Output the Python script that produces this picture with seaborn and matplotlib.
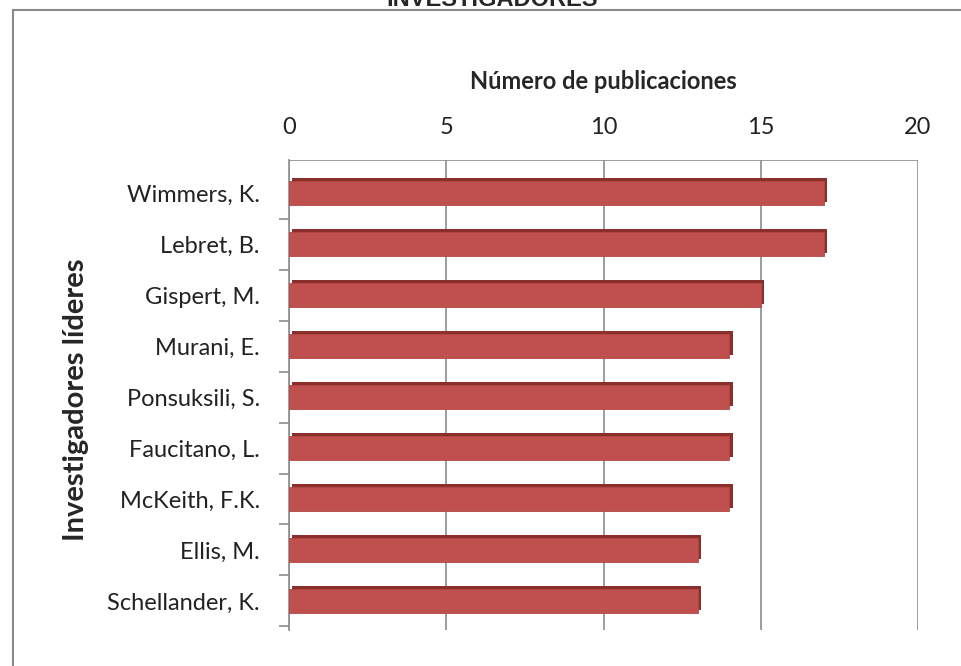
import matplotlib
matplotlib.use("Agg")
import matplotlib.pyplot as plt
import matplotlib.patheffects as pe
from matplotlib.patches import Rectangle
import numpy as np
import pandas as pd
import seaborn as sns

investigadores = ["Wimmers, K.", "Lebret, B.", "Gispert, M.", "Murani, E.",
                  "Ponsuksili, S.", "Faucitano, L.", "McKeith, F.K.",
                  "Ellis, M.", "Schellander, K."]
publicaciones = [17, 17, 15, 14, 14, 14, 14, 13, 13]
xticks = [0, 5, 10, 15, 20]

df = pd.DataFrame({"investigador": investigadores, "n": publicaciones})

sns.set_style("white")
plt.rcParams["font.family"] = ["Lato", "DejaVu Sans"]

W, H = 961, 666
fig = plt.figure(figsize=(W / 100, H / 100), dpi=100)

# chart frame (cut at right/bottom like the screenshot)
fig.patches.append(Rectangle((13 / W, -0.1), 1.2, 1 - 10 / H + 0.1, transform=fig.transFigure,
                             fill=False, edgecolor="#8a8a8a", lw=1.5))

# chart title, cropped at the top edge as in the screenshot
fig.text(492 / W, 1 + 1 / H, "INVESTIGADORES", ha="center", va="center",
         fontsize=17, fontweight="bold", family=["Liberation Sans", "DejaVu Sans"])

ax = fig.add_axes([289 / W, 36 / H, (918 - 289) / W, (630 - 160) / H])

# back-wall gridlines
for t in xticks:
    ax.axvline(t, color="#8c8c8c", lw=1.2, zorder=0)
ax.axhline(-0.65, color="#8c8c8c", lw=1.2, zorder=0)

sns.barplot(data=df, x="n", y="investigador", orient="h", color="#C0504D",
            saturation=1, width=0.47, ax=ax, zorder=3)
for bar in ax.patches:
    bar.set_path_effects([pe.SimplePatchShadow(offset=(2.4, 2.4), shadow_rgbFace="#8B2F2D", alpha=1),
                          pe.Normal()])
    bar.set_edgecolor("#B34845")
    bar.set_linewidth(0.6)

ax.set_xlim(0, 20)
ax.set_ylim(8.57, -0.65)
ax.set_xticks(xticks)
ax.xaxis.tick_top()
ax.xaxis.set_label_position("top")
ax.tick_params(axis="x", length=0, pad=16, labelsize=17, colors="#222222")
ax.set_yticks(np.arange(len(investigadores)))
ax.set_yticks(np.arange(len(investigadores)) + 0.5, minor=True)
ax.tick_params(axis="y", which="major", left=False, length=0, pad=21, labelsize=17, colors="#222222")
ax.tick_params(axis="y", which="minor", left=True, length=7, color="#8c8c8c",
               direction="out", width=1.2)

ax.set_xlabel("Número de publicaciones", fontsize=17, fontweight="bold", labelpad=20)
ax.set_ylabel("Investigadores líderes", fontsize=21, fontweight="bold")
ax.yaxis.set_label_coords(-0.318, 0.49)

for s in ["top", "right", "bottom"]:
    ax.spines[s].set_visible(False)
ax.spines["left"].set_color("#8c8c8c")
ax.spines["left"].set_linewidth(1.2)
ax.patch.set_alpha(0)

fig.savefig("out.png", dpi=100)
